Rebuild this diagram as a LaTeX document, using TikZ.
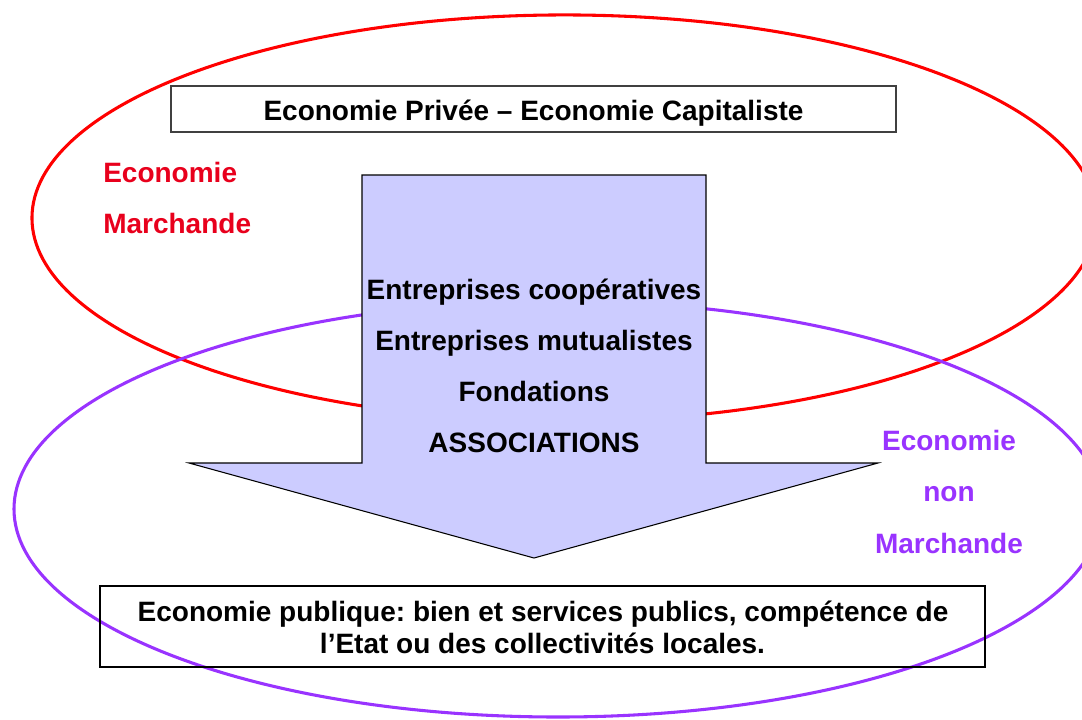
\documentclass[tikz,border=0pt]{standalone}
\usepackage{fontspec}
\setmainfont{Liberation Sans}
\frenchspacing
\definecolor{marchred}{RGB}{232,0,28}
\definecolor{nonmarch}{RGB}{153,51,255}
\definecolor{arrowfill}{RGB}{204,204,255}
\begin{document}
\begin{tikzpicture}
		[x=0.75pt,y=-0.75pt,
		bigtext/.style={font=\fontsize{21}{25}\selectfont\bfseries,inner sep=0pt,anchor=base},
		frame/.style={draw=#1,line width=1.1pt,inner sep=0pt},
		ring/.style={draw=#1,line width=2.3pt}]
		\useasboundingbox (0,0) rectangle (1082,719);
		\clip (0,0) rectangle (1082,719);
		\draw[ring=red] (564.5,218) ellipse [x radius=399.4pt, y radius=152.3pt];
		\draw[ring=nonmarch] (558,509) ellipse [x radius=408pt, y radius=156pt];
		\filldraw[fill=arrowfill,draw=black,line width=0.8pt] (362,175) -- (706,175) -- (706,463)
			-- (878,463) -- (534,558) -- (189,463) -- (362,463) -- cycle;
		\node at (533.5,109) (prive) [frame=black!75,minimum width=543.75pt,minimum height=34.5pt] {};
		\node at (533.5,120) (privetext) [bigtext] {Economie Privée – Economie Capitaliste};
		\node at (542.5,626.5) (public) [frame=black,minimum width=663.75pt,minimum height=60.75pt] {};
		\node at (543,621) (public1) [bigtext] {Economie publique: bien et services publics, compétence de};
		\node at (542.5,653) (public2) [bigtext] {l’Etat ou des collectivités locales.};
		\node at (103,182) (march1) [bigtext,anchor=base west,marchred] {Economie};
		\node at (103,233) (march2) [bigtext,anchor=base west,marchred] {Marchande};
		\node at (949,450) (nonm1) [bigtext,nonmarch] {Economie};
		\node at (949,501) (nonm2) [bigtext,nonmarch] {non};
		\node at (949,553) (nonm3) [bigtext,nonmarch] {Marchande};
		\node at (534,299) (coop) [bigtext] {Entreprises coopératives};
		\node at (534,350) (mutu) [bigtext] {Entreprises mutualistes};
		\node at (534,401) (fond) [bigtext] {Fondations};
		\node at (534,452) (asso) [bigtext] {ASSOCIATIONS};
	\end{tikzpicture}
\end{document}
